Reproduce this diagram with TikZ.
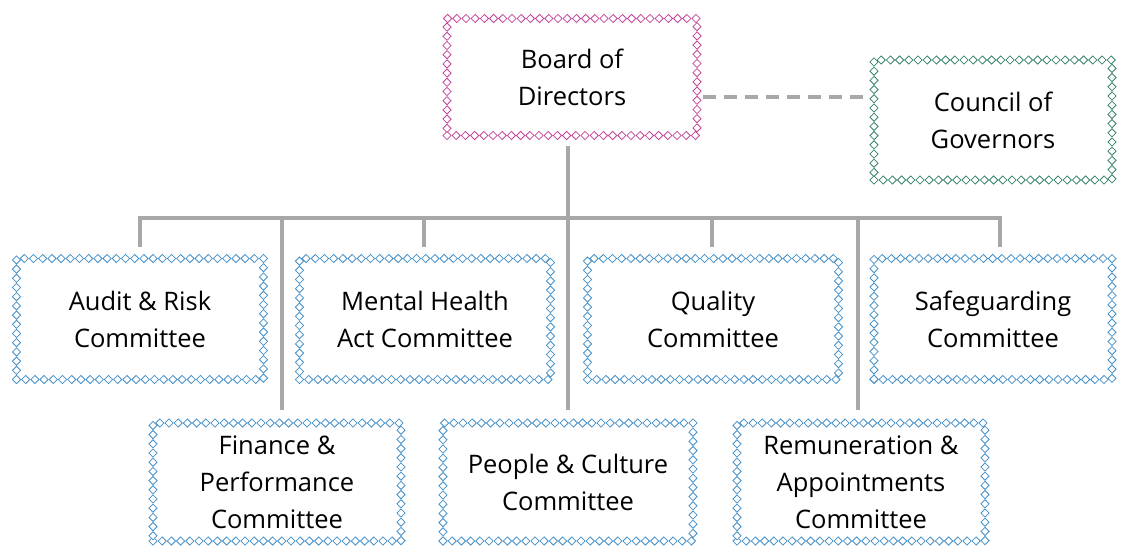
\documentclass[tikz,border=0pt]{standalone}
\usepackage{fontspec}
\setmainfont{Open Sans}
\usetikzlibrary{shapes.geometric,decorations.markings}
\definecolor{boardpink}{RGB}{196,70,156}
\definecolor{govgreen}{RGB}{58,134,106}
\definecolor{cttblue}{RGB}{70,144,200}
\definecolor{linkgray}{RGB}{168,168,168}
\tikzset{
  chainbox/.style={draw=none, minimum width=247pt, minimum height=121pt,
    align=center, font=\fontsize{25.5}{37}\selectfont, text=black,
    postaction={decorate, decoration={markings,
      mark=between positions 0 and 1 step 9.2pt with
        {\node[diamond, draw=#1, line width=0.8pt, fill=white, inner sep=0pt,
               minimum width=8.5pt, minimum height=8.5pt] {};}}}},
  link/.style={draw=linkgray, line width=3.5pt},
}
\begin{document}
\begin{tikzpicture}[x=1pt, y=-1pt]
  \useasboundingbox (0,0) rectangle (1129,552);
  %% top level
  \node[chainbox=boardpink, minimum width=250pt, minimum height=117pt] (board) at (572,77) {Board of\\Directors};
  \node[chainbox=govgreen, minimum width=238pt, minimum height=120pt] (council) at (993,120) {Council of\\Governors};
  %% first row of committees
  \node[chainbox=cttblue] (audit) at (140,319) {Audit \& Risk\\Committee};
  \node[chainbox=cttblue, minimum width=251pt] (mha) at (425,319) {Mental Health\\Act Committee};
  \node[chainbox=cttblue, minimum width=251pt] (quality) at (713,319) {Quality\\Committee};
  \node[chainbox=cttblue, minimum width=238pt] (safe) at (993,319) {Safeguarding\\Committee};
  %% second row of committees
  \node[chainbox=cttblue, minimum width=248pt, minimum height=118pt] (finance) at (277,482) {Finance \&\\Performance\\Committee};
  \node[chainbox=cttblue, minimum width=250pt, minimum height=118pt] (people) at (568,482) {People \& Culture\\Committee};
  \node[chainbox=cttblue, minimum width=248pt, minimum height=118pt] (remun) at (861,482) {Remuneration \&\\Appointments\\Committee};
  %% connectors
  \coordinate (bar) at (568,218);
  \draw[link, dash pattern=on 13pt off 8pt, shorten <=6pt, shorten >=4pt] (board.east |- 0,97) -- (council.west |- 0,97);
  \draw[link, shorten <=10pt, shorten >=13pt] (people.north |- board.south) -- (people.north);
  \draw[link, line cap=rect] (140,0 |- bar) -- (1000,0 |- bar);
  \foreach \ctt/\xpos in {audit/140,mha/424,quality/712,safe/1000}
    \draw[link, shorten >=11pt] (\xpos,0 |- bar) -- (\xpos,0 |- \ctt.north);
  \foreach \ctt/\xpos in {finance/282,remun/858}
    \draw[link, shorten >=13pt] (\xpos,0 |- bar) -- (\xpos,0 |- \ctt.north);
\end{tikzpicture}
\end{document}
